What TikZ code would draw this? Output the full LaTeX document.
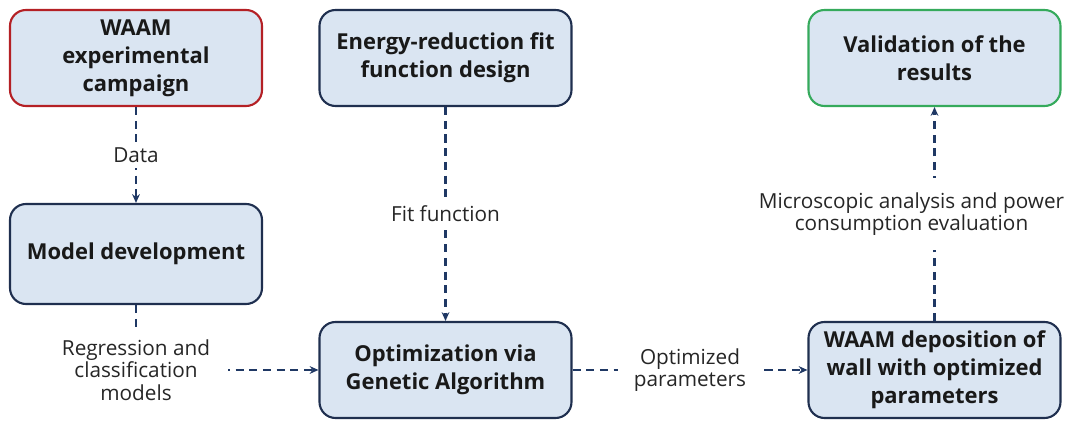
\documentclass[tikz,border=0pt]{standalone}
\usepackage{fontspec}
\setmainfont{Open Sans}
\usetikzlibrary{arrows.meta}
\definecolor{boxfill}{HTML}{DAE5F2}
\definecolor{boxline}{HTML}{1F2F4F}
\definecolor{boxred}{HTML}{B42025}
\definecolor{boxgreen}{HTML}{35AA5C}
\definecolor{flowline}{HTML}{1F3864}
\newcommand{\boxFont}[0]{\fontsize{12.5}{16}\selectfont\bfseries}
\newcommand{\labelFont}[0]{\fontsize{11.8}{12.8}\selectfont}

\begin{document}
\begin{tikzpicture}
  \tikzset{stagebox/.style={draw=boxline,fill=boxfill,line width=1.2pt,rounded corners=0.32cm,
      minimum width=5.04cm,minimum height=1.92cm,align=center,font=\boxFont,text=black!90},
    flowlabel/.style={fill=white,align=center,font=\labelFont,text=black!85,inner sep=3pt},
    flow/.style={draw=flowline,line width=1.2pt,dash pattern=on 4.6pt off 3.2pt},
    >={Stealth[length=5pt,width=4.4pt]}}
  \useasboundingbox (0,0) rectangle (21.5,8.46);
  \node[stagebox,draw=boxred](waam-exp) at (2.72,7.30){WAAM\\experimental\\campaign};
  \node[stagebox](fit-design) at (8.91,7.30){Energy-reduction fit\\function design};
  \node[stagebox,draw=boxgreen](valid) at (18.69,7.30){Validation of the\\results};
  \node[stagebox,minimum height=2.0cm](model-dev) at (2.72,3.38){Model development};
  \node[stagebox](opt-ga) at (8.91,1.06){Optimization via\\Genetic Algorithm};
  \node[stagebox](waam-dep) at (18.69,1.06){WAAM deposition of\\wall with optimized\\parameters};
  \draw[flow,->] (waam-exp) -- node[flowlabel](lbl-data){Data} (model-dev);
  \draw[flow,->] (fit-design) -- node[flowlabel](lbl-fit){Fit function} (opt-ga);
  \draw[flow,->] (model-dev.south) |- node[flowlabel,inner xsep=10pt,inner ysep=5pt](lbl-reg){Regression and\\classification\\models} (opt-ga.west);
  \draw[flow,->] (opt-ga) -- node[flowlabel,inner xsep=9pt](lbl-opt){Optimized\\parameters} (waam-dep);
  \draw[flow,->] (waam-dep) -- node[flowlabel,xshift=-0.46cm,inner ysep=8pt](lbl-micro){Microscopic analysis and power\\consumption evaluation} (valid);
\end{tikzpicture}
\end{document}
